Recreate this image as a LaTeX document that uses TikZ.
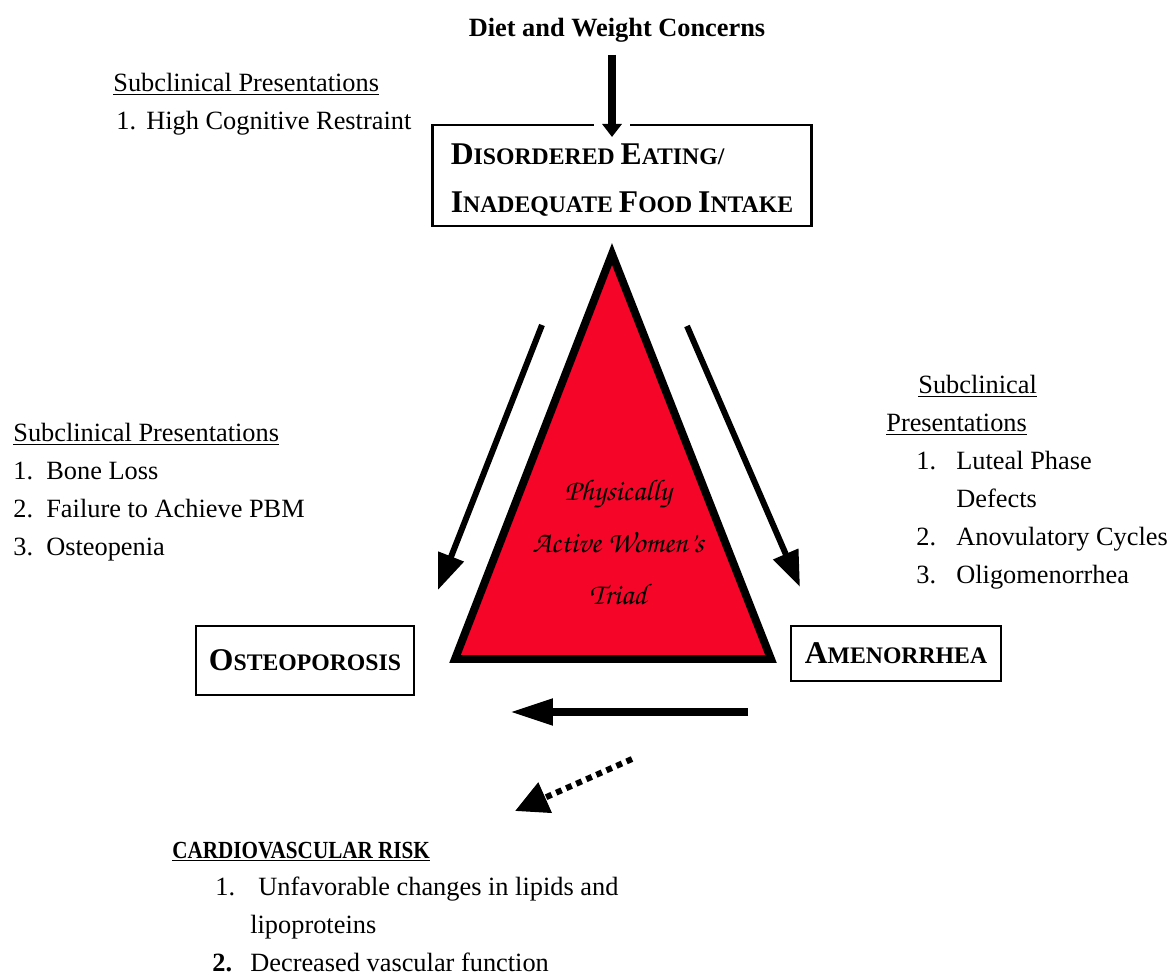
\documentclass[tikz,border=0pt]{standalone}
\usepackage[T1,TU]{fontenc}
\usepackage{fontspec}
\usepackage{graphicx}
\setmainfont{Liberation Serif}
\usetikzlibrary{arrows.meta}
\definecolor{tri}{RGB}{245,5,40}
\newcommand\bigsc[2]{{\fontsize{18}{22}\selectfont #1}{\fontsize{13.5}{22}\selectfont #2}}
\newcommand\trifont{\fontencoding{T1}\fontfamily{pzc}\fontseries{mb}\fontshape{it}\fontsize{17}{29.6}\selectfont}
\begin{document}
\begin{tikzpicture}[x=0.02cm,y=-0.02cm,
  box/.style={draw, line width=1.2pt, inner sep=0pt, font=\bfseries},
  txt/.style={inner sep=0pt, anchor=base west, font=\fontsize{15}{21.6}\selectfont},
  vertarrow/.style={line width=0.17cm, -{Triangle[length=0.26cm,width=0.38cm]}},
  slantarrow/.style={line width=0.12cm, -{Triangle[length=0.72cm,width=0.52cm]}},
  horizarrow/.style={line width=0.16cm, -{Triangle[length=0.86cm,width=0.5cm]}},
  dotarrow/.style={line width=0.12cm, dash pattern=on 0.12cm off 0.1cm, -{Triangle[length=0.66cm,width=0.64cm]}}]
\fill[white] (0,0) rectangle (1173,979);
\useasboundingbox (0,0) rectangle (1173,979);

% top
\node[anchor=base, inner sep=0pt, font=\bfseries\fontsize{15}{18}\selectfont] (diet) at (617,37) {Diet and Weight Concerns};
\node[box, minimum width=7.58cm, minimum height=2.02cm, align=left,
      font=\bfseries\fontsize{13.5}{27}\selectfont] (de) at (622,175.5)
  {\rule{0pt}{17pt}\bigsc{D}{ISORDERED} \bigsc{E}{ATING/}\\\bigsc{I}{NADEQUATE} \bigsc{F}{OOD} \bigsc{I}{NTAKE}};
\fill[white] (594,121) rectangle (630,129);
\coordinate (va) at (612,55);
\coordinate (vb) at (612,137);
\draw[vertarrow] (va) -- (vb);

\node[txt] (topsub) at (113,92) {\begin{tabular}[t]{@{}p{0.66cm}@{}l@{}}
\multicolumn{2}{@{}l@{}}{\underline{Subclinical Presentations}}\\
\hspace*{0.06cm}1. & High Cognitive Restraint
\end{tabular}};

% triangle
\draw[fill=tri, line width=4.5pt, line join=miter] (612,254) -- (455,659) -- (771,659) -- cycle;
\node[align=center, inner sep=0pt, font=\trifont] (triad) at (618,542) {Physically\\Active Women's\\Triad};

% side arrows
\coordinate (la) at (542,325);
\coordinate (lb) at (438,590);
\coordinate (ra) at (687,326);
\coordinate (rb) at (800,587);
\draw[slantarrow] (la) -- (lb);
\draw[slantarrow] (ra) -- (rb);

% boxes
\node[box, minimum width=4.36cm, minimum height=1.38cm] (ost) at (305,660.5) {\bigsc{O}{STEOPOROSIS}};
\node[box, minimum width=4.2cm, minimum height=1.1cm] (amen) at (896,653.5) {\bigsc{A}{MENORRHEA}};

\coordinate (ha) at (748,712);
\coordinate (hb) at (510,712);
\draw[horizarrow] (ha) -- (hb);
\coordinate (da) at (632,759);
\coordinate (db) at (515,811);
\draw[dotarrow] (da) -- (db);

% left list
\node[txt] (leftsub) at (13,442) {\begin{tabular}[t]{@{}p{0.66cm}@{}l@{}}
\multicolumn{2}{@{}l@{}}{\underline{Subclinical Presentations}}\\
1. & Bone Loss\\
2. & Failure to Achieve PBM\\
3. & Osteopenia
\end{tabular}};

% right list
\node[txt] (rightsub) at (886,394) {\begin{tabular}[t]{@{}p{1.4cm}@{}l@{}}
\multicolumn{2}{@{}l@{}}{\hspace*{0.64cm}\underline{Subclinical}}\\
\multicolumn{2}{@{}l@{}}{\underline{Presentations}}\\
\hspace*{0.6cm}1. & Luteal Phase\\
 & Defects\\
\hspace*{0.6cm}2. & Anovulatory Cycles\\
\hspace*{0.6cm}3. & Oligomenorrhea
\end{tabular}};

% bottom
\node[txt] (cvr) at (172,858) {\begin{tabular}[t]{@{\hspace{0.8cm}}p{0.76cm}@{}l@{}}
\multicolumn{2}{@{}l@{}}{\underline{\scalebox{0.86}[1]{\fontsize{14}{21.6}\selectfont\bfseries CARDIOVASCULAR RISK}}}\\
\hspace*{0.06cm}1. & \hspace*{0.16cm}Unfavorable changes in lipids and\\
 & lipoproteins\\
\textbf{2.} & Decreased vascular function
\end{tabular}};
\end{tikzpicture}
\end{document}
